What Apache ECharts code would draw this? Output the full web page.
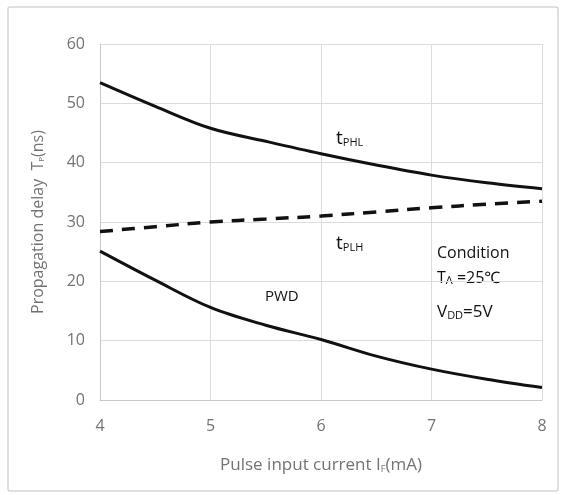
<!DOCTYPE html>
<html>
<head>
<meta charset="utf-8">
<script src="https://cdn.jsdelivr.net/npm/echarts@6/dist/echarts.min.js"></script>
<style>
html,body{margin:0;padding:0;background:#fff;}
#c{width:567px;height:495px;}
</style>
</head>
<body>
<div id="c"></div>
<script>
const xValues = [4, 4.5, 5, 5.5, 6, 6.5, 7, 7.5, 8];
const tPHL = [53.5, 49.5, 45.8, 43.6, 41.5, 39.6, 37.9, 36.6, 35.6];
const tPLH = [28.4, 29.2, 30.0, 30.5, 31.0, 31.7, 32.4, 33.0, 33.5];
const PWD = [25.1, 20.2, 15.6, 12.6, 10.2, 7.4, 5.2, 3.5, 2.1];
const xTicks = [4, 5, 6, 7, 8];
const yTicks = [0, 10, 20, 30, 40, 50, 60];

const pair = arr => xValues.map((x, i) => [x, arr[i]]);
const chart = echarts.init(document.getElementById('c'));
const FONT = '"Open Sans", "Noto Sans", sans-serif';
const gray = '#737373';
const ink = '#111';

const annot = (big, small) => ({
  t: { fontSize: big, fill: ink, fontFamily: FONT, verticalAlign: 'bottom', lineHeight: 20 },
  s: { fontSize: small, fill: ink, fontFamily: FONT, verticalAlign: 'bottom', lineHeight: 20, padding: [0, 0, 0, 0] }
});

chart.setOption({
  animation: false,
  backgroundColor: '#fff',
  grid: { left: 100, right: 25, top: 44, bottom: 95 },
  xAxis: {
    type: 'value', min: xTicks[0], max: xTicks[xTicks.length - 1], interval: 1,
    axisLine: { show: true, lineStyle: { color: '#c8c8c8', width: 1 } },
    axisTick: { show: false },
    splitLine: { show: true, lineStyle: { color: '#dcdcdc', width: 1 } },
    axisLabel: { color: gray, fontSize: 16, fontFamily: FONT, margin: 18 },
    name: 'Pulse input current I{s|F}(mA)',
    nameLocation: 'middle', nameGap: 57,
    nameTextStyle: {
      color: gray, fontSize: 17, fontFamily: FONT,
      rich: { s: { fontSize: 9, color: gray, fontFamily: FONT, padding: [8, 0, 0, 0] } }
    }
  },
  yAxis: {
    type: 'value', min: yTicks[0], max: yTicks[yTicks.length - 1], interval: 10,
    axisLine: { show: true, lineStyle: { color: '#c8c8c8', width: 1 } },
    axisTick: { show: false },
    splitLine: { show: true, lineStyle: { color: '#dcdcdc', width: 1 } },
    axisLabel: { color: gray, fontSize: 16, fontFamily: FONT, margin: 15 },
    name: 'Propagation delay  T{s|P}(ns)',
    nameLocation: 'middle', nameGap: 54, nameRotate: 90,
    nameTextStyle: {
      color: gray, fontSize: 16, fontFamily: FONT,
      rich: { s: { fontSize: 8, color: gray, fontFamily: FONT, padding: [8, 0, 0, 0] } }
    }
  },
  series: [
    { name: 'tPHL', type: 'line', data: pair(tPHL), smooth: 0.35, symbol: 'none',
      lineStyle: { color: ink, width: 3 } },
    { name: 'tPLH', type: 'line', data: pair(tPLH), smooth: 0.35, symbol: 'none',
      lineStyle: { color: ink, width: 3.5, type: [13, 9] } },
    { name: 'PWD', type: 'line', data: pair(PWD), smooth: 0.35, symbol: 'none',
      lineStyle: { color: ink, width: 3 } }
  ],
  graphic: [
    { type: 'rect', shape: { x: 8, y: 7, width: 550, height: 484, r: 2 }, z: -1,
      style: { fill: 'none', stroke: '#d6d6d6', lineWidth: 1.5 } },
    { type: 'text', left: 336, top: 129,
      style: { text: '{t|t}{s|PHL}', rich: annot(19, 11) } },
    { type: 'text', left: 336, top: 234,
      style: { text: '{t|t}{s|PLH}', rich: annot(19, 11) } },
    { type: 'text', left: 265, top: 289,
      style: { text: 'PWD', fontSize: 15, fill: ink, fontFamily: FONT } },
    { type: 'text', left: 437, top: 245,
      style: { text: 'Condition', fontSize: 16, fill: ink, fontFamily: FONT } },
    { type: 'text', left: 437, top: 270,
      style: { text: '{t|T}{s|A}{t| =25\u2103}', rich: annot(16, 11) } },
    { type: 'text', left: 437, top: 304,
      style: { text: '{t|V}{s|DD}{t|=5V}', rich: annot(17, 11) } }
  ]
});
</script>
</body>
</html>
